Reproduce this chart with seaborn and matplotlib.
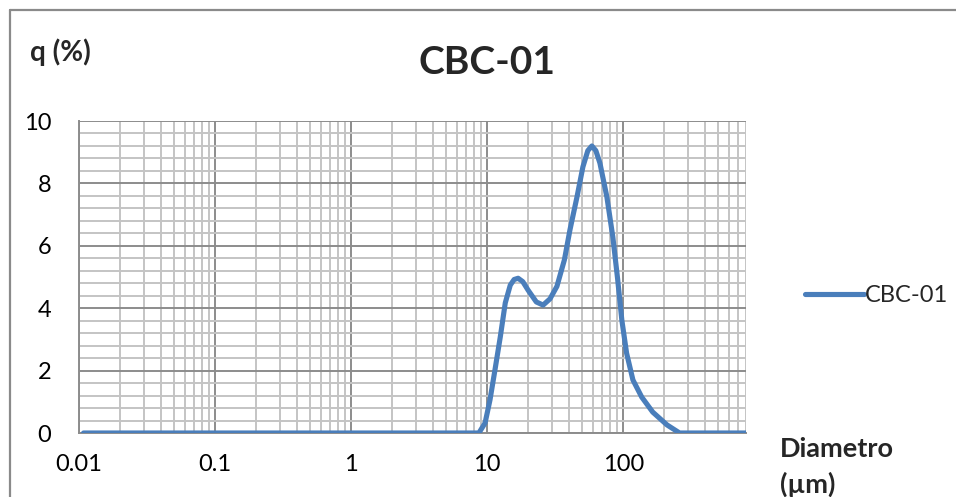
import matplotlib
matplotlib.use("Agg")
import matplotlib.pyplot as plt
from matplotlib.ticker import LogLocator, MultipleLocator, FixedLocator, NullFormatter
from matplotlib.lines import Line2D
import seaborn as sns
import pandas as pd

# Particle size distribution, sample CBC-01
diametro_um = [0.0108, 8.7, 9.66, 10.5, 11.4, 12.5, 13.6, 14.8, 15.8, 16.9, 18.3,
               20.0, 23.0, 25.8, 29.0, 32.6, 37.0, 40.6, 45.8, 50.6, 55.0, 58.9,
               63.0, 67.5, 75.9, 84.0, 91.0, 97.8, 106.0, 118.0, 137.0, 165.0,
               210.0, 260.0, 800.0]
q_pct = [0.0, 0.0, 0.32, 1.06, 2.0, 3.08, 4.17, 4.74, 4.92, 4.96, 4.85,
         4.58, 4.2, 4.1, 4.3, 4.7, 5.55, 6.5, 7.57, 8.53, 9.05, 9.2,
         9.05, 8.65, 7.57, 6.28, 4.95, 3.62, 2.56, 1.7, 1.15, 0.67,
         0.26, 0.0, 0.0]
serie = "CBC-01"
x_ticks = [0.01, 0.1, 1, 10, 100]
x_tick_labels = ["0.01", "0.1", "1", "10", "100"]
y_ticks = [0, 2, 4, 6, 8, 10]

df = pd.DataFrame({"Diametro": diametro_um, "q": q_pct, "Serie": serie})

sns.set_style("white")
plt.rcParams["font.family"] = ["Lato", "DejaVu Sans"]

W, H = 956, 497
fig = plt.figure(figsize=(W / 100, H / 100), dpi=100)
ax = fig.add_axes([79 / W, 1 - 433 / H, (746 - 79) / W, (433 - 121) / H])

major_c = "#8c8c8c"
minor_c = "#c4c4c4"
line_c = "#4a7ebb"

sns.lineplot(data=df, x="Diametro", y="q", hue="Serie", palette=[line_c],
             linewidth=3.7, ax=ax, legend=True, sort=False)
for ln in ax.get_lines():
    ln.set_solid_capstyle("round")
    ln.set_solid_joinstyle("round")
    ln.set_zorder(5)

ax.set_xscale("log")
ax.set_xlim(0.01, 800)
ax.set_ylim(0, 10)

ax.xaxis.set_major_locator(FixedLocator(x_ticks))
ax.set_xticks(x_ticks)
ax.set_xticklabels(x_tick_labels)
ax.xaxis.set_minor_locator(LogLocator(base=10, subs=range(2, 10), numticks=20))
ax.xaxis.set_minor_formatter(NullFormatter())
ax.set_yticks(y_ticks)
ax.yaxis.set_minor_locator(MultipleLocator(0.4))

ax.grid(True, which="major", color=major_c, linewidth=1.4)
ax.grid(True, which="minor", color=minor_c, linewidth=1.4)
ax.set_axisbelow(True)

ax.tick_params(axis="both", which="major", labelsize=17, colors="#000000",
               length=6, width=1.2, direction="out")
ax.tick_params(axis="x", which="major", color=major_c, pad=9)
ax.tick_params(axis="y", which="major", color=major_c, pad=14)
ax.tick_params(axis="both", which="minor", length=0)

for side in ("top", "right"):
    ax.spines[side].set_visible(False)
for side in ("left", "bottom"):
    ax.spines[side].set_color(major_c)
    ax.spines[side].set_linewidth(1.4)

ax.set_xlabel("")
ax.set_ylabel("")

leg = ax.legend(loc="center left", bbox_to_anchor=(805 / W, 1 - 296 / H),
                bbox_transform=fig.transFigure, frameon=False, fontsize=17,
                handlelength=2.5, handletextpad=0.05, borderaxespad=0,
                borderpad=0)
for h in leg.get_lines():
    h.set_linewidth(3.7)
    h.set_solid_capstyle("round")

fig.text(487 / W, 1 - 62 / H, "CBC-01", ha="center", va="center",
         fontsize=28, fontweight="bold")
fig.text(30 / W, 1 - 52 / H, "q (%)", ha="left", va="center",
         fontsize=20, fontweight="bold")
fig.text(780 / W, 1 - 449 / H, "Diametro", ha="left", va="center",
         fontsize=19.5, fontweight="bold")
fig.text(780 / W, 1 - 484 / H, "(µm)", ha="left", va="center",
         fontsize=19.5, fontweight="bold")

# chart frame (top and left edges)
fig.add_artist(Line2D([10 / W, 1.0], [1 - 10 / H, 1 - 10 / H],
                      transform=fig.transFigure, color="#8a8a8a", linewidth=1.6))
fig.add_artist(Line2D([10 / W, 10 / W], [0.0, 1 - 10 / H],
                      transform=fig.transFigure, color="#8a8a8a", linewidth=1.6))

fig.savefig("out.png", dpi=100)
